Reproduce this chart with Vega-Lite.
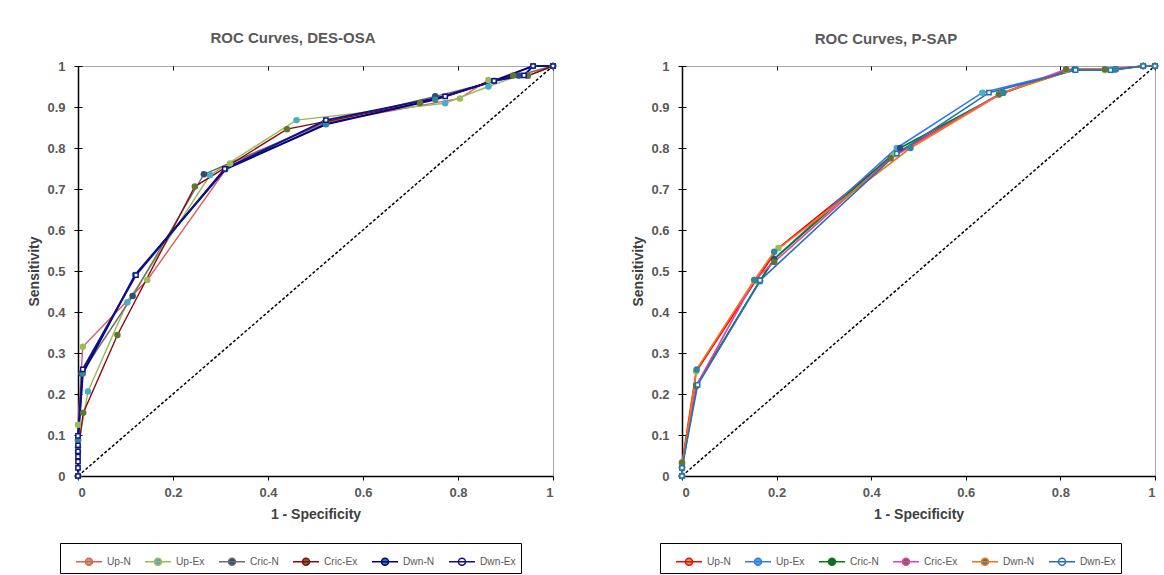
{
  "$schema": "https://vega.github.io/schema/vega-lite/v6.json",
  "padding": {"left": 27, "top": 30, "right": 5, "bottom": 2},
  "config": {
    "font": "Liberation Sans",
    "view": {"stroke": "#a6a6a6", "strokeWidth": 1},
    "axis": {
      "domainColor": "black", "domainWidth": 1.5,
      "tickColor": "black", "tickSize": 4, "tickWidth": 1,
      "labelFont": "Liberation Sans", "labelFontSize": 13, "labelFontWeight": "bold", "labelColor": "#595959",
      "titleFont": "Liberation Sans", "titleFontSize": 14, "titleFontWeight": "bold", "titleColor": "#404040",
      "grid": true, "gridColor": "black", "gridDash": [4, 2000], "gridWidth": 1
    },
    "axisX": {"labelPadding": 6, "titlePadding": 8},
    "axisY": {"labelPadding": 9, "titlePadding": 5},
    "legend": {
      "orient": "none", "direction": "horizontal",
      "symbolType": "M-1,0H1M0.27,0A0.27,0.27,0,1,1,-0.27,0A0.27,0.27,0,1,1,0.27,0Z",
      "symbolSize": 676, "symbolStrokeWidth": 1.5,
      "labelFont": "Liberation Sans", "labelFontSize": 10.2, "labelColor": "#595959", "labelOffset": 4,
      "columnPadding": 11, "padding": 4.5, "strokeColor": "black",
      "titleOrient": "left", "titleFontSize": 1, "titlePadding": 10.5
    },
    "title": {"font": "Liberation Sans", "fontSize": 15, "fontWeight": "bold", "color": "#595959", "anchor": "middle", "frame": "bounds"}
  },
  "datasets": {
    "diag": [{"x": 0, "y": 0}, {"x": 1, "y": 1}],
    "desosa": [
      {"s": "Up-N", "i": 0, "x": 0, "y": 0},
      {"s": "Up-N", "i": 1, "x": 0, "y": 0.125},
      {"s": "Up-N", "i": 2, "x": 0.01, "y": 0.315},
      {"s": "Up-N", "i": 3, "x": 0.146, "y": 0.478},
      {"s": "Up-N", "i": 4, "x": 0.32, "y": 0.762},
      {"s": "Up-N", "i": 5, "x": 0.522, "y": 0.862},
      {"s": "Up-N", "i": 6, "x": 0.804, "y": 0.921},
      {"s": "Up-N", "i": 7, "x": 0.864, "y": 0.966},
      {"s": "Up-N", "i": 8, "x": 0.947, "y": 0.976},
      {"s": "Up-N", "i": 9, "x": 1, "y": 1},
      {"s": "Up-Ex", "i": 0, "x": 0, "y": 0},
      {"s": "Up-Ex", "i": 1, "x": 0, "y": 0.07},
      {"s": "Up-Ex", "i": 2, "x": 0.021, "y": 0.206},
      {"s": "Up-Ex", "i": 3, "x": 0.104, "y": 0.424},
      {"s": "Up-Ex", "i": 4, "x": 0.278, "y": 0.734},
      {"s": "Up-Ex", "i": 5, "x": 0.46, "y": 0.868},
      {"s": "Up-Ex", "i": 6, "x": 0.773, "y": 0.909},
      {"s": "Up-Ex", "i": 7, "x": 0.864, "y": 0.95},
      {"s": "Up-Ex", "i": 8, "x": 0.93, "y": 0.977},
      {"s": "Up-Ex", "i": 9, "x": 1, "y": 1},
      {"s": "Cric-N", "i": 0, "x": 0, "y": 0},
      {"s": "Cric-N", "i": 1, "x": 0, "y": 0.088},
      {"s": "Cric-N", "i": 2, "x": 0.007, "y": 0.25},
      {"s": "Cric-N", "i": 3, "x": 0.115, "y": 0.439},
      {"s": "Cric-N", "i": 4, "x": 0.265, "y": 0.736},
      {"s": "Cric-N", "i": 5, "x": 0.52, "y": 0.862},
      {"s": "Cric-N", "i": 6, "x": 0.752, "y": 0.926},
      {"s": "Cric-N", "i": 7, "x": 0.927, "y": 0.977},
      {"s": "Cric-N", "i": 8, "x": 1, "y": 1},
      {"s": "Cric-Ex", "i": 0, "x": 0, "y": 0},
      {"s": "Cric-Ex", "i": 1, "x": 0, "y": 0.059},
      {"s": "Cric-Ex", "i": 2, "x": 0.011, "y": 0.154},
      {"s": "Cric-Ex", "i": 3, "x": 0.083, "y": 0.344},
      {"s": "Cric-Ex", "i": 4, "x": 0.246, "y": 0.706},
      {"s": "Cric-Ex", "i": 5, "x": 0.44, "y": 0.846},
      {"s": "Cric-Ex", "i": 6, "x": 0.72, "y": 0.91},
      {"s": "Cric-Ex", "i": 7, "x": 0.916, "y": 0.977},
      {"s": "Cric-Ex", "i": 8, "x": 0.947, "y": 0.976},
      {"s": "Cric-Ex", "i": 9, "x": 1, "y": 1},
      {"s": "Dwn-N", "i": 0, "x": 0, "y": 0},
      {"s": "Dwn-N", "i": 1, "x": 0, "y": 0.088},
      {"s": "Dwn-N", "i": 2, "x": 0.01, "y": 0.25},
      {"s": "Dwn-N", "i": 3, "x": 0.12, "y": 0.49},
      {"s": "Dwn-N", "i": 4, "x": 0.31, "y": 0.748},
      {"s": "Dwn-N", "i": 5, "x": 0.522, "y": 0.858},
      {"s": "Dwn-N", "i": 6, "x": 0.752, "y": 0.918},
      {"s": "Dwn-N", "i": 7, "x": 0.876, "y": 0.964},
      {"s": "Dwn-N", "i": 8, "x": 0.958, "y": 1},
      {"s": "Dwn-N", "i": 9, "x": 1, "y": 1},
      {"s": "Dwn-Ex", "i": 0, "x": 0, "y": 0},
      {"s": "Dwn-Ex", "i": 1, "x": 0, "y": 0.02},
      {"s": "Dwn-Ex", "i": 2, "x": 0, "y": 0.035},
      {"s": "Dwn-Ex", "i": 3, "x": 0, "y": 0.047},
      {"s": "Dwn-Ex", "i": 4, "x": 0, "y": 0.06},
      {"s": "Dwn-Ex", "i": 5, "x": 0, "y": 0.075},
      {"s": "Dwn-Ex", "i": 6, "x": 0, "y": 0.098},
      {"s": "Dwn-Ex", "i": 7, "x": 0.01, "y": 0.26},
      {"s": "Dwn-Ex", "i": 8, "x": 0.122, "y": 0.49},
      {"s": "Dwn-Ex", "i": 9, "x": 0.309, "y": 0.749},
      {"s": "Dwn-Ex", "i": 10, "x": 0.522, "y": 0.868},
      {"s": "Dwn-Ex", "i": 11, "x": 0.773, "y": 0.926},
      {"s": "Dwn-Ex", "i": 12, "x": 0.876, "y": 0.964},
      {"s": "Dwn-Ex", "i": 13, "x": 0.939, "y": 0.977},
      {"s": "Dwn-Ex", "i": 14, "x": 0.958, "y": 1},
      {"s": "Dwn-Ex", "i": 15, "x": 1, "y": 1}
    ],
    "psap": [
      {"s": "Up-N", "i": 0, "x": 0, "y": 0},
      {"s": "Up-N", "i": 1, "x": 0, "y": 0.03},
      {"s": "Up-N", "i": 2, "x": 0.03, "y": 0.255},
      {"s": "Up-N", "i": 3, "x": 0.155, "y": 0.475},
      {"s": "Up-N", "i": 4, "x": 0.204, "y": 0.556},
      {"s": "Up-N", "i": 5, "x": 0.45, "y": 0.785},
      {"s": "Up-N", "i": 6, "x": 0.67, "y": 0.93},
      {"s": "Up-N", "i": 7, "x": 0.812, "y": 0.99},
      {"s": "Up-N", "i": 8, "x": 0.894, "y": 0.99},
      {"s": "Up-N", "i": 9, "x": 0.975, "y": 1},
      {"s": "Up-N", "i": 10, "x": 1, "y": 1},
      {"s": "Up-Ex", "i": 0, "x": 0, "y": 0},
      {"s": "Up-Ex", "i": 1, "x": 0, "y": 0.02},
      {"s": "Up-Ex", "i": 2, "x": 0.03, "y": 0.22},
      {"s": "Up-Ex", "i": 3, "x": 0.165, "y": 0.475},
      {"s": "Up-Ex", "i": 4, "x": 0.195, "y": 0.53},
      {"s": "Up-Ex", "i": 5, "x": 0.454, "y": 0.8},
      {"s": "Up-Ex", "i": 6, "x": 0.635, "y": 0.935},
      {"s": "Up-Ex", "i": 7, "x": 0.83, "y": 0.99},
      {"s": "Up-Ex", "i": 8, "x": 0.91, "y": 0.99},
      {"s": "Up-Ex", "i": 9, "x": 0.975, "y": 1},
      {"s": "Up-Ex", "i": 10, "x": 1, "y": 1},
      {"s": "Cric-N", "i": 0, "x": 0, "y": 0},
      {"s": "Cric-N", "i": 1, "x": 0, "y": 0.02},
      {"s": "Cric-N", "i": 2, "x": 0.03, "y": 0.22},
      {"s": "Cric-N", "i": 3, "x": 0.165, "y": 0.477},
      {"s": "Cric-N", "i": 4, "x": 0.195, "y": 0.529},
      {"s": "Cric-N", "i": 5, "x": 0.461, "y": 0.8},
      {"s": "Cric-N", "i": 6, "x": 0.679, "y": 0.935},
      {"s": "Cric-N", "i": 7, "x": 0.83, "y": 0.992},
      {"s": "Cric-N", "i": 8, "x": 0.917, "y": 0.992},
      {"s": "Cric-N", "i": 9, "x": 0.975, "y": 1},
      {"s": "Cric-N", "i": 10, "x": 1, "y": 1},
      {"s": "Cric-Ex", "i": 0, "x": 0, "y": 0},
      {"s": "Cric-Ex", "i": 1, "x": 0, "y": 0.033},
      {"s": "Cric-Ex", "i": 2, "x": 0.03, "y": 0.22},
      {"s": "Cric-Ex", "i": 3, "x": 0.153, "y": 0.478},
      {"s": "Cric-Ex", "i": 4, "x": 0.195, "y": 0.522},
      {"s": "Cric-Ex", "i": 5, "x": 0.441, "y": 0.775},
      {"s": "Cric-Ex", "i": 6, "x": 0.67, "y": 0.931},
      {"s": "Cric-Ex", "i": 7, "x": 0.812, "y": 0.992},
      {"s": "Cric-Ex", "i": 8, "x": 0.894, "y": 0.992},
      {"s": "Cric-Ex", "i": 9, "x": 0.975, "y": 1},
      {"s": "Cric-Ex", "i": 10, "x": 1, "y": 1},
      {"s": "Dwn-N", "i": 0, "x": 0, "y": 0},
      {"s": "Dwn-N", "i": 1, "x": 0, "y": 0.02},
      {"s": "Dwn-N", "i": 2, "x": 0.031, "y": 0.26},
      {"s": "Dwn-N", "i": 3, "x": 0.153, "y": 0.478},
      {"s": "Dwn-N", "i": 4, "x": 0.195, "y": 0.547},
      {"s": "Dwn-N", "i": 5, "x": 0.483, "y": 0.8},
      {"s": "Dwn-N", "i": 6, "x": 0.679, "y": 0.935},
      {"s": "Dwn-N", "i": 7, "x": 0.832, "y": 0.992},
      {"s": "Dwn-N", "i": 8, "x": 0.917, "y": 0.992},
      {"s": "Dwn-N", "i": 9, "x": 0.975, "y": 1},
      {"s": "Dwn-N", "i": 10, "x": 1, "y": 1},
      {"s": "Dwn-Ex", "i": 0, "x": 0, "y": 0},
      {"s": "Dwn-Ex", "i": 1, "x": 0, "y": 0.02},
      {"s": "Dwn-Ex", "i": 2, "x": 0.033, "y": 0.222},
      {"s": "Dwn-Ex", "i": 3, "x": 0.165, "y": 0.477},
      {"s": "Dwn-Ex", "i": 4, "x": 0.454, "y": 0.786},
      {"s": "Dwn-Ex", "i": 5, "x": 0.649, "y": 0.935},
      {"s": "Dwn-Ex", "i": 6, "x": 0.832, "y": 0.99},
      {"s": "Dwn-Ex", "i": 7, "x": 0.906, "y": 0.99},
      {"s": "Dwn-Ex", "i": 8, "x": 0.975, "y": 1},
      {"s": "Dwn-Ex", "i": 9, "x": 1, "y": 1}
    ]
  },
  "resolve": {"scale": {"stroke": "independent", "fill": "independent"}},
  "spacing": 72,
  "hconcat": [
    {
      "width": 475,
      "height": 410,
      "title": {"text": "ROC Curves, DES-OSA", "offset": 14},
      "layer": [
        {
          "data": {"name": "diag"},
          "mark": {"type": "line", "color": "black", "strokeDash": [3, 2], "strokeWidth": 1.5},
          "encoding": {
            "x": {"field": "x", "type": "quantitative", "scale": {"domain": [0, 1], "nice": false}, "axis": {"title": "1 - Specificity", "values": [0, 0.2, 0.4, 0.6, 0.8, 1], "format": "~g"}},
            "y": {"field": "y", "type": "quantitative", "scale": {"domain": [0, 1], "nice": false}, "axis": {"title": "Sensitivity", "values": [0, 0.1, 0.2, 0.3, 0.4, 0.5, 0.6, 0.7, 0.8, 0.9, 1], "format": "~g"}}
          }
        },
        {
          "data": {"name": "desosa"},
          "mark": {"type": "line"},
          "encoding": {
            "x": {"field": "x", "type": "quantitative"},
            "y": {"field": "y", "type": "quantitative"},
            "order": {"field": "i", "type": "quantitative"},
            "strokeWidth": {"condition": {"test": "indexof(['Dwn-N','Dwn-Ex'], datum.s) >= 0", "value": 2}, "value": 1.4},
            "stroke": {"field": "s", "type": "nominal",
              "scale": {"domain": ["Up-N", "Up-Ex", "Cric-N", "Cric-Ex", "Dwn-N", "Dwn-Ex"], "range": ["#dd5c5c", "#9bbb59", "#6d6d6d", "#8b0a0a", "#000080", "#10108c"]},
              "legend": {"legendX": -18, "legendY": 477, "title": " "}}
          }
        },
        {
          "data": {"name": "desosa"},
          "mark": {"type": "point", "filled": true, "opacity": 1},
          "encoding": {
            "x": {"field": "x", "type": "quantitative"},
            "y": {"field": "y", "type": "quantitative"},
            "fill": {"field": "s", "type": "nominal",
              "scale": {"domain": ["Up-N", "Up-Ex", "Cric-N", "Cric-Ex", "Dwn-N", "Dwn-Ex"], "range": ["#9bbb59", "#4bacc6", "#2c4d75", "#5f7530", "#31859c", "#ffffff"]},
              "legend": {"legendX": -18, "legendY": 477, "title": " "}},
            "stroke": {"field": "s", "type": "nominal"},
            "shape": {"condition": {"test": "datum.s === 'Dwn-Ex'", "value": "square"}, "value": "circle"},
            "size": {"condition": {"test": "datum.s === 'Dwn-Ex'", "value": 18}, "value": 42},
            "strokeWidth": {"condition": {"test": "datum.s === 'Dwn-Ex'", "value": 1.5}, "value": 0}
          }
        }
      ]
    },
    {
      "width": 473,
      "height": 410,
      "title": {"text": "ROC Curves, P-SAP", "offset": 13, "dx": -10},
      "layer": [
        {
          "data": {"name": "diag"},
          "mark": {"type": "line", "color": "black", "strokeDash": [3, 2], "strokeWidth": 1.5},
          "encoding": {
            "x": {"field": "x", "type": "quantitative", "scale": {"domain": [0, 1], "nice": false}, "axis": {"title": "1 - Specificity", "values": [0, 0.2, 0.4, 0.6, 0.8, 1], "format": "~g"}},
            "y": {"field": "y", "type": "quantitative", "scale": {"domain": [0, 1], "nice": false}, "axis": {"title": "Sensitivity", "values": [0, 0.1, 0.2, 0.3, 0.4, 0.5, 0.6, 0.7, 0.8, 0.9, 1], "format": "~g"}}
          }
        },
        {
          "data": {"name": "psap"},
          "mark": {"type": "line", "strokeWidth": 1.6},
          "encoding": {
            "x": {"field": "x", "type": "quantitative"},
            "y": {"field": "y", "type": "quantitative"},
            "order": {"field": "i", "type": "quantitative"},
            "stroke": {"field": "s", "type": "nominal",
              "scale": {"domain": ["Up-N", "Up-Ex", "Cric-N", "Cric-Ex", "Dwn-N", "Dwn-Ex"], "range": ["#ff0000", "#3377ff", "#008000", "#e63cb4", "#f57314", "#2471b5"]},
              "legend": {"legendX": -22, "legendY": 477, "title": " "}}
          }
        },
        {
          "data": {"name": "psap"},
          "mark": {"type": "point", "filled": true, "opacity": 1},
          "encoding": {
            "x": {"field": "x", "type": "quantitative"},
            "y": {"field": "y", "type": "quantitative"},
            "fill": {"field": "s", "type": "nominal",
              "scale": {"domain": ["Up-N", "Up-Ex", "Cric-N", "Cric-Ex", "Dwn-N", "Dwn-Ex"], "range": ["#9bbb59", "#4bacc6", "#2c4d75", "#5f7530", "#31859c", "#ffffff"]},
              "legend": {"legendX": -22, "legendY": 477, "title": " "}},
            "stroke": {"field": "s", "type": "nominal"},
            "shape": {"condition": {"test": "datum.s === 'Dwn-Ex'", "value": "square"}, "value": "circle"},
            "size": {"condition": {"test": "datum.s === 'Dwn-Ex'", "value": 18}, "value": 42},
            "strokeWidth": {"condition": {"test": "datum.s === 'Dwn-Ex'", "value": 1.5}, "value": 0}
          }
        }
      ]
    }
  ]
}
